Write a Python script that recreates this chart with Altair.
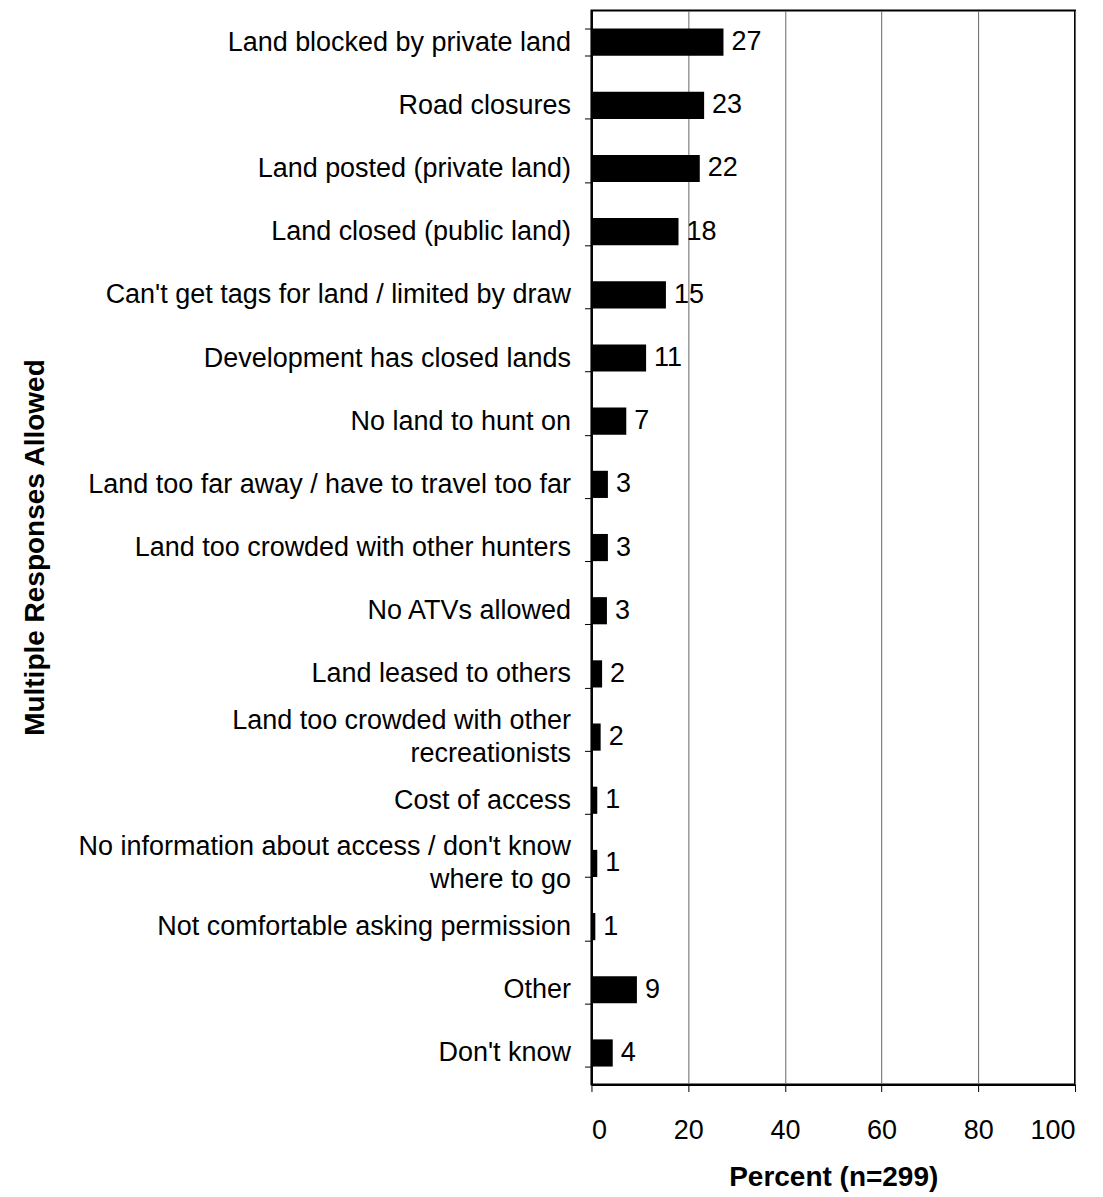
import altair as alt
import pandas as pd

categories = [
    "Land blocked by private land",
    "Road closures",
    "Land posted (private land)",
    "Land closed (public land)",
    "Can't get tags for land / limited by draw",
    "Development has closed lands",
    "No land to hunt on",
    "Land too far away / have to travel too far",
    "Land too crowded with other hunters",
    "No ATVs allowed",
    "Land leased to others",
    "Land too crowded with other|recreationists",
    "Cost of access",
    "No information about access / don't know|where to go",
    "Not comfortable asking permission",
    "Other",
    "Don't know",
]
values = [27.3, 23.3, 22.4, 18.0, 15.4, 11.3, 7.2, 3.4, 3.4, 3.2, 2.2, 1.9, 1.2, 1.2, 0.8, 9.4, 4.4]
value_labels = ["27", "23", "22", "18", "15", "11", "7", "3", "3", "3", "2", "2", "1", "1", "1", "9", "4"]
x_ticks = [0, 20, 40, 60, 80, 100]

df = pd.DataFrame({"cat": categories, "val": values, "lab": value_labels})

FONT = "Liberation Sans"

y_enc = alt.Y(
    "cat:N",
    sort=categories,
    scale=alt.Scale(paddingInner=0.57, paddingOuter=0.285),
    axis=alt.Axis(
        title="Multiple Responses Allowed",
        titleFont=FONT,
        titleFontSize=28,
        titleFontWeight="bold",
        titleColor="black",
        titleX=-556,
        titleY=537,
        titleAngle=270,
        titleAlign="center",
        titleBaseline="middle",
        labelFont=FONT,
        labelFontSize=27,
        labelColor="black",
        labelPadding=14,
        labelLineHeight=33,
        labelLimit=700,
        labelExpr="split(datum.label, '|')",
        labelOffset={"condition": {"test": "indexof(datum.label, '|') >= 0", "value": -16.5}, "value": 0},
        tickBand="extent",
        tickSize=7,
        tickColor="black",
        tickWidth=1,
        domainColor="black",
        domainWidth=2,
        grid=False,
    ),
)

x_enc = alt.X(
    "val:Q",
    scale=alt.Scale(domain=[0, 100], nice=False),
    axis=alt.Axis(
        title="Percent (n=299)",
        titleFont=FONT,
        titleFontSize=28,
        titleFontWeight="bold",
        titleColor="black",
        titlePadding=20,
        values=x_ticks,
        labelFont=FONT,
        labelFontSize=27,
        labelColor="black",
        labelPadding=26,
        tickSize=7,
        tickColor="black",
        domainColor="black",
        domainWidth=2,
        grid=True,
        gridColor="#666666",
        gridWidth=1,
    ),
)

bars = alt.Chart(df).mark_bar(color="black").encode(x=x_enc, y=y_enc)

text = alt.Chart(df).mark_text(
    align="left", baseline="middle", dx=8, font=FONT, fontSize=27, color="black"
).encode(x="val:Q", y=alt.Y("cat:N", sort=categories), text="lab:N")

chart = (
    (bars + text)
    .properties(
        width=484,
        height=1075,
        autosize=alt.AutoSizeParams(type="none"),
        padding={"left": 584, "top": 2, "right": 20, "bottom": 110},
        background="white",
    )
    .configure_view(stroke="black", strokeWidth=2)
)

chart.save("out.html", embed_options={"renderer": "svg", "actions": False})
